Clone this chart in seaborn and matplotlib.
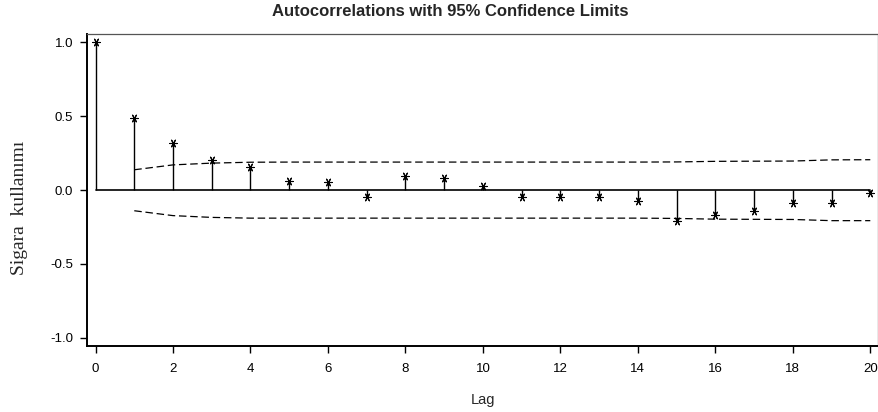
import matplotlib
matplotlib.use('Agg')
import matplotlib.pyplot as plt
import seaborn as sns
import pandas as pd

# ACF values
lags = list(range(0, 21))
acf = [1.0, 0.49, 0.32, 0.20, 0.155, 0.06, 0.052, -0.045, 0.095, 0.083, 0.03,
       -0.045, -0.045, -0.045, -0.074, -0.207, -0.171, -0.142, -0.09, -0.086, -0.022]

# 95% confidence limits (from lag 1)
ci_lags = list(range(1, 21))
ci_upper = [0.137, 0.170, 0.182, 0.188, 0.189, 0.189, 0.189, 0.189, 0.189, 0.189,
            0.189, 0.189, 0.189, 0.189, 0.190, 0.194, 0.195, 0.196, 0.204, 0.205]
ci_lower = [-0.140, -0.173, -0.185, -0.190, -0.190, -0.190, -0.190, -0.190, -0.190, -0.190,
            -0.190, -0.190, -0.190, -0.190, -0.192, -0.197, -0.198, -0.199, -0.207, -0.207]

yticks = [-1.0, -0.5, 0.0, 0.5, 1.0]
xticks = list(range(0, 21, 2))

sns.set_style('white')
plt.rcParams['font.family'] = ['Liberation Sans', 'DejaVu Sans']

df = pd.DataFrame({'lag': lags, 'acf': acf})
ci = pd.DataFrame({'lag': ci_lags, 'up': ci_upper, 'lo': ci_lower})

fig = plt.figure(figsize=(8.79, 4.12), dpi=100)
ax = fig.add_axes([0.099, 0.160, 0.8999, 0.7575])

# zero line and stems
ax.plot([lags[0], lags[-1]], [0, 0], color='black', lw=1.2, zorder=2)
ax.vlines(df['lag'], 0, df['acf'], color='black', lw=1.0, zorder=2)

sns.scatterplot(data=df, x='lag', y='acf', ax=ax, marker=(6, 2, 90), s=30,
                color='black', linewidth=0.8, zorder=3, legend=False)

sns.lineplot(data=ci, x='lag', y='up', ax=ax, color='black', lw=0.9, zorder=1)
ax.lines[-1].set_dashes([6, 3])
sns.lineplot(data=ci, x='lag', y='lo', ax=ax, color='black', lw=0.9, zorder=1)
ax.lines[-1].set_dashes([6, 3])

ax.set_xlim(-0.22, 20.2)
ax.set_ylim(-1.055, 1.055)
ax.set_xticks(xticks)
ax.set_yticks(yticks)
ax.set_yticklabels([f'{v:.1f}' for v in yticks])
ax.tick_params(axis='both', direction='out', length=5, width=1, labelsize=9.5,
               bottom=True, left=True, colors='black', pad=5)
ax.tick_params(axis='x', pad=7)

for s in ['left', 'bottom']:
    ax.spines[s].set_color('black')
    ax.spines[s].set_linewidth(1.4)
for s in ['top', 'right']:
    ax.spines[s].set_color('#555555')
    ax.spines[s].set_linewidth(0.9)

ax.set_xlabel('Lag', fontsize=10.5, labelpad=13)
ax.set_ylabel('')
fig.text(20 / 879, 1 - 208 / 412, 'Sigara  kullanımı', rotation=90,
         family='Liberation Serif', fontsize=14, ha='center', va='center')
fig.text(450 / 879, 1 - 12 / 412, 'Autocorrelations with 95% Confidence Limits',
         fontsize=12, fontweight='bold', ha='center', va='center')

fig.savefig('out.png', dpi=100)
